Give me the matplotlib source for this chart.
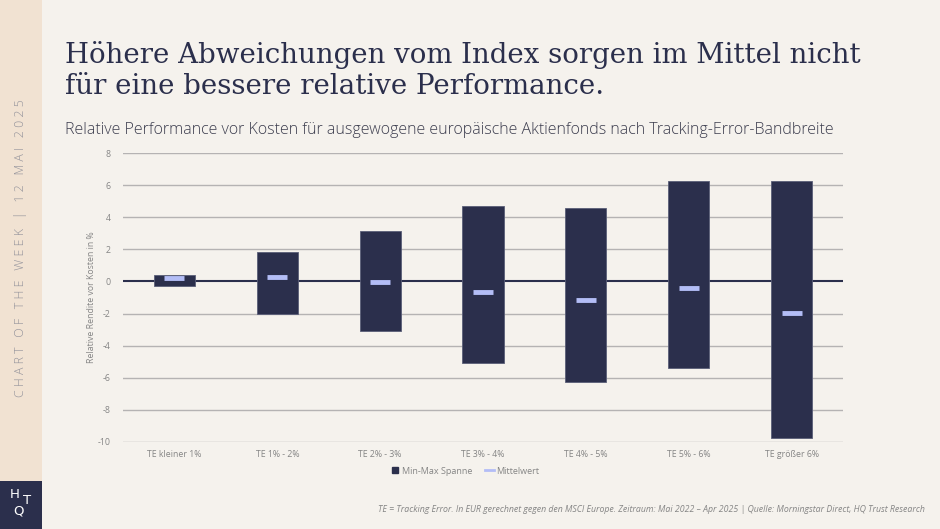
import matplotlib
matplotlib.use("Agg")
import matplotlib.pyplot as plt
from matplotlib.patches import Rectangle
from matplotlib.lines import Line2D
import numpy as np

categories = ["TE kleiner 1%", "TE 1% - 2%", "TE 2% - 3%", "TE 3% - 4%", "TE 4% - 5%", "TE 5% - 6%", "TE größer 6%"]
max_vals = [0.42, 1.85, 3.16, 4.70, 4.56, 6.30, 6.26]
min_vals = [-0.31, -2.00, -3.08, -5.06, -6.30, -5.41, -9.76]
mean_vals = [0.19, 0.27, -0.04, -0.67, -1.17, -0.40, -1.94]
yticks = [8, 6, 4, 2, 0, -2, -4, -6, -8, -10]

BG = "#f5f2ed"
SIDE = "#f1e2d2"
NAVY = "#2b2f4c"
LAV = "#b3bdf6"
GRID = "#b5b3b3"
TXT = "#3c3d4e"
GRAY = "#858585"
SANS = "Open Sans"

W, H = 940, 529
fig = plt.figure(figsize=(W / 100, H / 100), dpi=100)
fig.patch.set_facecolor(BG)

# sidebar
fig.patches.append(Rectangle((0, 0), 42 / W, 1, transform=fig.transFigure, facecolor=SIDE, edgecolor="none", zorder=0))
fig.patches.append(Rectangle((0, 0), 42 / W, 48 / H, transform=fig.transFigure, facecolor=NAVY, edgecolor="none", zorder=1))
fig.text(21 / W, 1 - 248 / H, "C H A R T   O F   T H E   W E E K   |   1 2   M A I   2 0 2 5", rotation=90,
         ha="center", va="center", fontsize=8.9, color="#94939b", family=SANS, fontweight="light")
fig.text(15 / W, 1 - 495 / H, "H", ha="center", va="center", fontsize=9.5, color="white", family="DejaVu Sans")
fig.text(18 / W, 1 - 511 / H, "Q", ha="center", va="center", fontsize=9.5, color="white", family="DejaVu Sans")
fig.text(27 / W, 1 - 500 / H, "T", ha="center", va="center", fontsize=9.5, color="white", family="DejaVu Sans")

# title
fig.text(65 / W, 1 - 55 / H, "Höhere Abweichungen vom Index sorgen im Mittel nicht", ha="left", va="center",
         fontsize=19.9, color=NAVY, family="DejaVu Serif")
fig.text(65 / W, 1 - 86 / H, "für eine bessere relative Performance.", ha="left", va="center",
         fontsize=19.9, color=NAVY, family="DejaVu Serif")
fig.text(65 / W, 1 - 130 / H, "Relative Performance vor Kosten für ausgewogene europäische Aktienfonds nach Tracking-Error-Bandbreite",
         ha="left", va="center", fontsize=11.5, color=TXT, family=SANS, fontweight="light")

ax = fig.add_axes([123 / W, (H - 441.7) / H, 720 / W, (441.7 - 153.3) / H])
ax.set_facecolor(BG)
x = np.arange(len(categories))
ax.set_xlim(-0.5, len(categories) - 0.5)
ax.set_ylim(-10, 8)
for t in yticks:
    if t != 0:
        ax.axhline(t, color=GRID, lw=1.0, zorder=0)
ax.axhline(0, color=NAVY, lw=1.5, zorder=1)

heights = [mx - mn for mx, mn in zip(max_vals, min_vals)]
ax.bar(x, heights, bottom=min_vals, width=0.40, color=NAVY, edgecolor="#5a5e78", linewidth=0.6, zorder=2)
ax.scatter(x, mean_vals, marker="_", s=190, linewidths=3.5, color=LAV, zorder=3)

ax.set_yticks(yticks)
ax.set_yticklabels([str(t) for t in yticks], fontsize=6.3, color=GRAY, family=SANS)
ax.set_xticks(x)
ax.set_xticklabels(categories, fontsize=6.3, color=GRAY, family=SANS)
ax.tick_params(axis="both", length=0)
ax.tick_params(axis="y", pad=9)
ax.tick_params(axis="x", pad=6)
for s in ax.spines.values():
    s.set_visible(False)
ax.set_ylabel("Relative Rendite vor Kosten in %", fontsize=6.3, color=GRAY, family=SANS, labelpad=1)

handles = [Line2D([], [], marker="s", ls="none", color=NAVY, markersize=4.5),
           Line2D([], [], color=LAV, lw=2)]
fig.legend(handles, ["Min-Max Spanne", "Mittelwert"], loc="center", bbox_to_anchor=(465 / W, 1 - 471 / H),
           ncol=2, frameon=False, labelcolor=GRAY, handlelength=0.9, handletextpad=0.3,
           columnspacing=1.5, prop={"family": SANS, "size": 6.5})

fig.text(925 / W, 1 - 509 / H,
         "TE = Tracking Error. In EUR gerechnet gegen den MSCI Europe. Zeitraum: Mai 2022 – Apr 2025 | Quelle: Morningstar Direct, HQ Trust Research",
         ha="right", va="center", fontsize=6.3, color=GRAY, style="italic", family=SANS)

fig.savefig("out.png", dpi=100, facecolor=BG)
